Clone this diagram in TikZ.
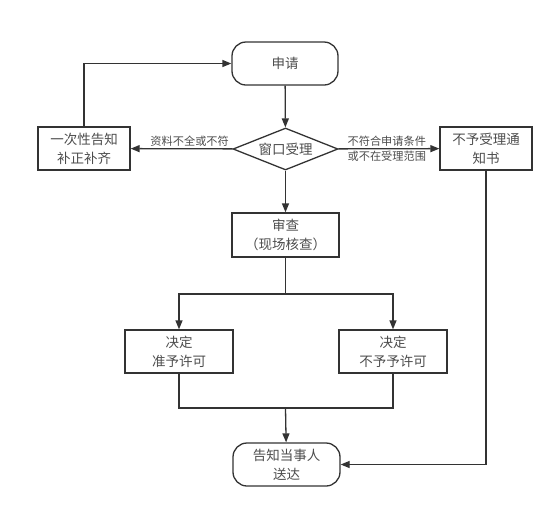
\documentclass[tikz,border=0pt]{standalone}
\usepackage{fontspec}
\newfontfamily\cjk{Noto Sans CJK SC}
\usetikzlibrary{arrows.meta,positioning,shapes.geometric}

\begin{document}
\begin{tikzpicture}[x=1pt,y=-1pt,
		every node/.style={font=\cjk\fontsize{13.5}{19}\selectfont, text=black!70, align=center},
		box/.style={draw=black!80, line width=1.3pt, minimum width=107pt, minimum height=43pt, inner sep=0pt},
		term/.style={box, rounded corners=14pt},
		dec/.style={box, diamond, aspect=2.5, minimum width=105pt, minimum height=42pt},
		lbl/.style={font=\cjk\fontsize{11.2}{15}\selectfont, inner sep=1.5pt},
		line/.style={draw=black!80, line width=1.3pt},
		arr/.style={line, -{Triangle[length=9pt,width=7pt]}}]
	\useasboundingbox (0,0) rectangle (560,515);
	% nodes
	\node[term, minimum width=106pt] (apply) at (285,63.5) {申请};
	\node[dec] (window) at (285.5,149) {窗口受理};
	\node[box, minimum width=92pt] (notify) at (84,148.5) {一次性告知\\补正补齐};
	\node[box, minimum width=92pt] (reject) at (486,148.5) {不予受理通\\知书};
	\node[box, minimum height=44pt] (review) at (285.5,235) {审查\\（现场核查）};
	\node[box, minimum width=108pt] (grant) at (179,351.5) {决定\\准予许可};
	\node[box, minimum width=108pt] (deny) at (393,351.5) {决定\\不予予许可};
	\node[term] (serve) at (286.5,464.5) {告知当事人\\送达};
	\coordinate (split) at (285.5,294);
	\coordinate (merge) at (285.5,408);
	% connectors
	\draw[arr] (apply) -- (window);
	\draw[arr] (window) -- node[lbl, above, xshift=8pt] {资料不全或不符} (notify);
	\draw[arr] (notify.north) |- (apply.west);
	\draw[arr] (window) -- node[lbl, xshift=-2pt] {不符合申请条件\\或不在受理范围} (reject);
	\draw[arr] (window) -- (review);
	\draw[line] (review) -- (split);
	\draw[arr] (split) -| (grant.north);
	\draw[arr] (split) -| (deny.north);
	\draw[line] (grant.south) |- (merge) -| (deny.south);
	\draw[arr] (merge) -- (serve);
	\draw[arr] (reject.south) |- (serve.east);
\end{tikzpicture}
\end{document}
